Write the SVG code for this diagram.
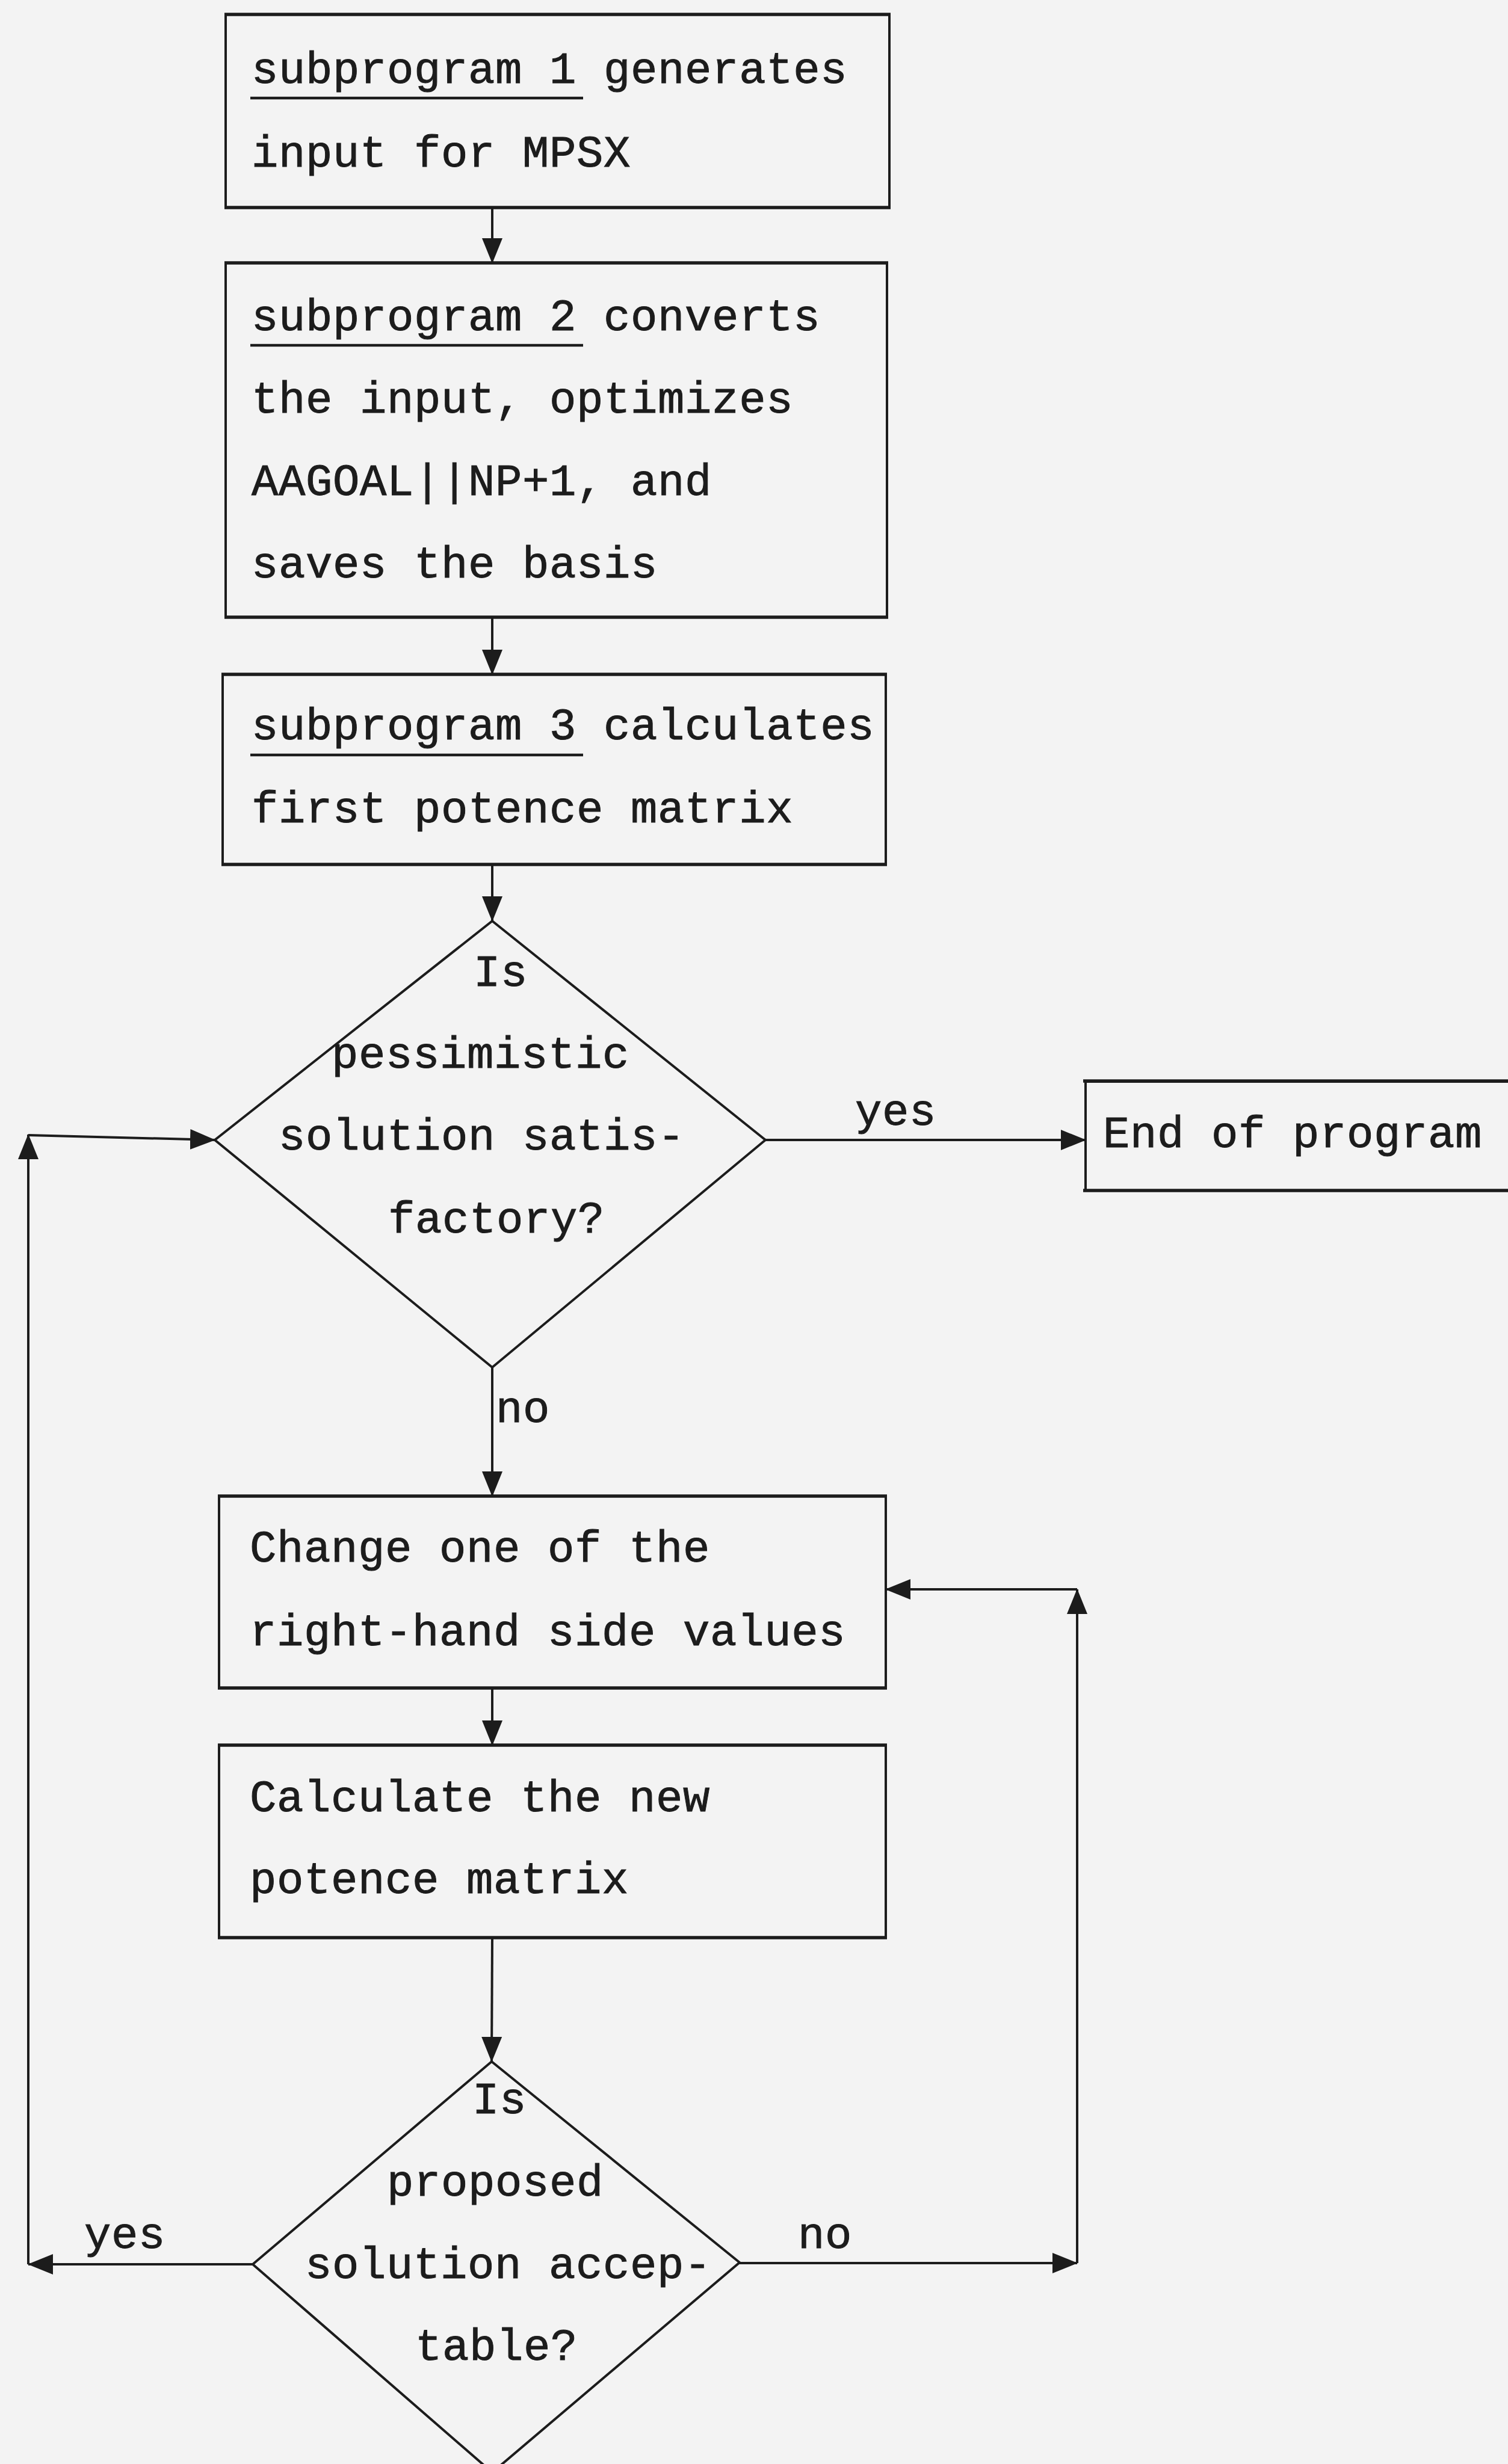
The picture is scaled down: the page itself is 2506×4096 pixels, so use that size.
<svg xmlns="http://www.w3.org/2000/svg" width="2506" height="4096" viewBox="0 0 2506 4096">
<defs>
<marker id="ah" viewBox="0 0 42 38" refX="41" refY="19" markerWidth="42" markerHeight="38" markerUnits="userSpaceOnUse" orient="auto"><path d="M0,2 L42,19 L0,36 z" fill="#1c1c1c"/></marker>
</defs>
<style>
.bx{fill:none;stroke:#1c1c1c;stroke-width:4}
.tb{stroke:#1c1c1c;stroke-width:5.5;fill:none}
.dm{fill:none;stroke:#1c1c1c;stroke-width:4;stroke-linejoin:miter}
.cn{fill:none;stroke:#1c1c1c;stroke-width:4;marker-end:url(#ah)}
.ul{stroke:#1c1c1c;stroke-width:4.5}
text{font-family:"Liberation Mono","DejaVu Sans Mono",monospace;font-size:74px;letter-spacing:0.6px;fill:#1c1c1c;stroke:#1c1c1c;stroke-width:1}
</style>
<rect width="2506" height="4096" fill="#f3f3f3"/>
<g id="node-sub1">
<rect class="bx" x="375" y="24" width="1103" height="321"/>
<line class="tb" x1="373" y1="24" x2="1480" y2="24"/><line class="tb" x1="373" y1="345" x2="1480" y2="345"/>
<text x="418" y="138">subprogram 1 generates</text>
<line class="ul" x1="416" y1="163" x2="969" y2="163"/>
<text x="418" y="277">input for MPSX</text>
</g>
<g id="node-sub2">
<rect class="bx" x="375" y="437" width="1099" height="589"/>
<line class="tb" x1="373" y1="437" x2="1476" y2="437"/><line class="tb" x1="373" y1="1026" x2="1476" y2="1026"/>
<text x="418" y="549">subprogram 2 converts</text>
<line class="ul" x1="416" y1="574" x2="969" y2="574"/>
<text x="418" y="686">the input, optimizes</text>
<text x="418" y="823">AAGOAL||NP+1, and</text>
<text x="418" y="960">saves the basis</text>
</g>
<g id="node-sub3">
<rect class="bx" x="370" y="1121" width="1102" height="316"/>
<line class="tb" x1="368" y1="1121" x2="1474" y2="1121"/><line class="tb" x1="368" y1="1437" x2="1474" y2="1437"/>
<text x="418" y="1229">subprogram 3 calculates</text>
<line class="ul" x1="416" y1="1255" x2="969" y2="1255"/>
<text x="418" y="1367">first potence matrix</text>
</g>
<g id="node-dec1">
<polygon class="dm" points="818,1531 1272,1895 818,2273 357,1895"/>
<text x="787" y="1639">Is</text>
<text x="551" y="1775">pessimistic</text>
<text x="463" y="1911">solution satis-</text>
<text x="645" y="2049">factory?</text>
</g>
<g id="node-end">
<rect class="bx" x="1804" y="1798" width="760" height="181"/>
<line class="tb" x1="1800" y1="1797" x2="2506" y2="1797"/><line class="tb" x1="1800" y1="1979" x2="2506" y2="1979"/>
<text x="1833" y="1907">End of program</text>
</g>
<g id="node-change">
<rect class="bx" x="364" y="2487" width="1108" height="319"/>
<line class="tb" x1="362" y1="2487" x2="1474" y2="2487"/><line class="tb" x1="362" y1="2806" x2="1474" y2="2806"/>
<text x="415" y="2596">Change one of the</text>
<text x="415" y="2735">right-hand side values</text>
</g>
<g id="node-calc">
<rect class="bx" x="364" y="2901" width="1108" height="320"/>
<line class="tb" x1="362" y1="2901" x2="1474" y2="2901"/><line class="tb" x1="362" y1="3221" x2="1474" y2="3221"/>
<text x="415" y="3011">Calculate the new</text>
<text x="415" y="3147">potence matrix</text>
</g>
<g id="node-dec2">
<polygon class="dm" points="817,3427 1229,3761 818,4110 420,3764"/>
<text x="785" y="3513">Is</text>
<text x="643" y="3650">proposed</text>
<text x="507" y="3787">solution accep-</text>
<text x="690" y="3923">table?</text>
</g>
<g id="connectors">
<path class="cn" d="M818,345 L818,437"/>
<path class="cn" d="M818,1026 L818,1121"/>
<path class="cn" d="M818,1437 L818,1531"/>
<path class="cn" d="M1272,1895 L1804,1895"/>
<path class="cn" d="M818,2273 L818,2487"/>
<path class="cn" d="M818,2806 L818,2901"/>
<path class="cn" d="M818,3221 L817,3427"/>
<path class="cn" d="M420,3764 L47,3764"/>
<path class="cn" d="M47,3764 L47,1886"/>
<path class="cn" d="M47,1887 L357,1895"/>
<path class="cn" d="M1229,3762 L1790,3762"/>
<path class="cn" d="M1790,3762 L1790,2642"/>
<path class="cn" d="M1790,2642 L1472,2642"/>
<text x="1421" y="1870">yes</text>
<text x="824" y="2364">no</text>
<text x="140" y="3737">yes</text>
<text x="1326" y="3737">no</text>
</g>
</svg>
